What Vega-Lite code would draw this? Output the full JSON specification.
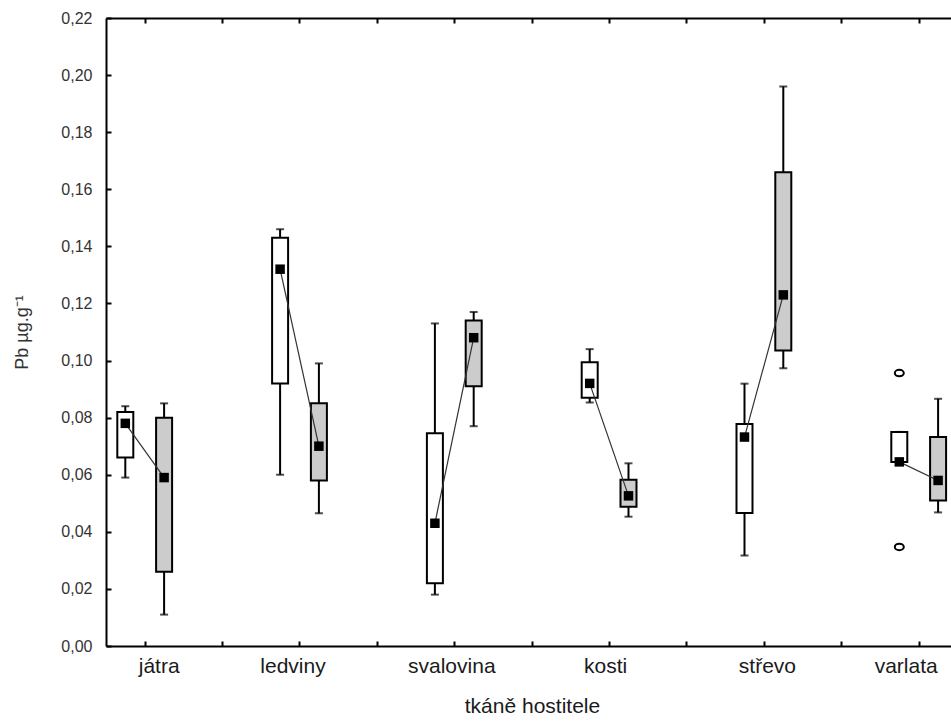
{
  "$schema": "https://vega.github.io/schema/vega-lite/v6.json",
  "autosize": {"type": "none"},
  "padding": {"left": 106, "top": 18, "right": 0, "bottom": 78},
  "width": 845,
  "height": 628,
  "background": "white",
  "config": {
    "view": {"stroke": null},
    "font": "Liberation Sans",
    "axis": {
      "grid": false,
      "domainColor": "black",
      "domainWidth": 2,
      "tickColor": "black",
      "tickWidth": 2,
      "tickSize": -5,
      "labelFont": "Liberation Sans",
      "titleFont": "Liberation Sans",
      "titleFontWeight": "normal"
    }
  },
  "datasets": {
    "boxes": [
      {"tissue": "játra", "pos": 1, "group": "I", "min": 0.059, "q1": 0.066, "median": 0.078, "q3": 0.082, "max": 0.084},
      {"tissue": "játra", "pos": 1, "group": "II", "min": 0.011, "q1": 0.026, "median": 0.059, "q3": 0.080, "max": 0.085},
      {"tissue": "ledviny", "pos": 2, "group": "I", "min": 0.060, "q1": 0.092, "median": 0.132, "q3": 0.143, "max": 0.146},
      {"tissue": "ledviny", "pos": 2, "group": "II", "min": 0.0465, "q1": 0.058, "median": 0.070, "q3": 0.085, "max": 0.099},
      {"tissue": "svalovina", "pos": 3, "group": "I", "min": 0.018, "q1": 0.022, "median": 0.043, "q3": 0.0745, "max": 0.113},
      {"tissue": "svalovina", "pos": 3, "group": "II", "min": 0.077, "q1": 0.091, "median": 0.108, "q3": 0.114, "max": 0.117},
      {"tissue": "kosti", "pos": 4, "group": "I", "min": 0.0853, "q1": 0.087, "median": 0.092, "q3": 0.0994, "max": 0.104},
      {"tissue": "kosti", "pos": 4, "group": "II", "min": 0.0453, "q1": 0.0488, "median": 0.0526, "q3": 0.0582, "max": 0.064},
      {"tissue": "střevo", "pos": 5, "group": "I", "min": 0.0317, "q1": 0.0466, "median": 0.0732, "q3": 0.0778, "max": 0.0919},
      {"tissue": "střevo", "pos": 5, "group": "II", "min": 0.0973, "q1": 0.1035, "median": 0.123, "q3": 0.166, "max": 0.196},
      {"tissue": "varlata", "pos": 6, "group": "I", "min": 0.0645, "q1": 0.0645, "median": 0.0645, "q3": 0.075, "max": 0.075},
      {"tissue": "varlata", "pos": 6, "group": "II", "min": 0.0468, "q1": 0.051, "median": 0.058, "q3": 0.0732, "max": 0.0866}
    ],
    "outliers": [
      {"tissue": "varlata", "pos": 6, "group": "I", "value": 0.0956},
      {"tissue": "varlata", "pos": 6, "group": "I", "value": 0.0347}
    ]
  },
  "data": {"name": "boxes"},
  "resolve": {"axis": {"x": "independent", "y": "independent"}},
  "layer": [
    {
      "mark": {"type": "rule", "color": "black", "strokeWidth": 2, "xOffset": {"expr": "datum.group == 'I' ? -19.4 : 19.4"}},
      "encoding": {
        "x": {
          "field": "pos", "type": "quantitative",
          "scale": {"domain": [0.75, 6.2087], "nice": false, "zero": false, "padding": 0},
          "axis": {
            "orient": "bottom",
            "values": [1, 1.5, 2, 2.5, 3, 3.5, 4, 4.5, 5, 5.5, 6],
            "labelExpr": "datum.value == 1 ? 'játra' : datum.value == 2 ? 'ledviny' : datum.value == 3 ? 'svalovina' : datum.value == 4 ? 'kosti' : datum.value == 5 ? 'střevo' : datum.value == 6 ? 'varlata' : ''",
            "labelFontSize": 21,
            "labelColor": "#1a1a1a",
            "labelPadding": 14,
            "labelFlush": false,
            "labelOverlap": false,
            "labelOffset": {
              "condition": [
                {"test": "datum.value == 1", "value": 14},
                {"test": "datum.value == 2", "value": -7},
                {"test": "datum.value == 3", "value": -3},
                {"test": "datum.value == 4", "value": -4},
                {"test": "datum.value == 5", "value": 3},
                {"test": "datum.value == 6", "value": -13}
              ],
              "value": 0
            },
            "title": "tkáně hostitele",
            "titleFontSize": 21,
            "titleColor": "#1a1a1a",
            "titleX": 426,
            "titleY": 60,
            "titleBaseline": "middle"
          }
        },
        "y": {
          "field": "min", "type": "quantitative",
          "scale": {"domain": [0, 0.22], "nice": false, "zero": false, "padding": 0},
          "axis": {
            "orient": "left",
            "values": [0, 0.02, 0.04, 0.06, 0.08, 0.1, 0.12, 0.14, 0.16, 0.18, 0.2, 0.22],
            "labelExpr": "replace(format(datum.value, '.2f'), '.', ',')",
            "labelFontSize": 16,
            "labelColor": "#333333",
            "labelPadding": 19,
            "title": "Pb µg.g⁻¹",
            "titleFontSize": 18,
            "titleColor": "#333333",
            "titleX": -84,
            "titleY": 314,
            "titleAngle": -90,
            "titleAlign": "center",
            "titleBaseline": "middle"
          }
        },
        "y2": {"field": "max"}
      }
    },
    {
      "mark": {"type": "tick", "orient": "horizontal", "size": 8, "thickness": 2, "color": "black", "xOffset": {"expr": "datum.group == 'I' ? -19.4 : 19.4"}},
      "encoding": {
        "x": {
          "field": "pos", "type": "quantitative",
          "axis": {
            "orient": "top",
            "values": [1, 1.5, 2, 2.5, 3, 3.5, 4, 4.5, 5, 5.5, 6],
            "labels": false,
            "title": null
          }
        },
        "y": {"field": "max", "type": "quantitative", "axis": null}
      }
    },
    {
      "mark": {"type": "tick", "orient": "horizontal", "size": 8, "thickness": 2, "color": "black", "xOffset": {"expr": "datum.group == 'I' ? -19.4 : 19.4"}},
      "encoding": {
        "x": {"field": "pos", "type": "quantitative", "axis": null},
        "y": {"field": "min", "type": "quantitative", "axis": null}
      }
    },
    {
      "mark": {"type": "bar", "width": 16, "stroke": "black", "strokeWidth": 2, "xOffset": {"expr": "datum.group == 'I' ? -19.4 : 19.4"}},
      "encoding": {
        "x": {"field": "pos", "type": "quantitative", "axis": null},
        "y": {"field": "q1", "type": "quantitative", "axis": null},
        "y2": {"field": "q3"},
        "fill": {"field": "group", "type": "nominal", "scale": {"domain": ["I", "II"], "range": ["#ffffff", "#cccccc"]}, "legend": null}
      }
    },
    {
      "mark": {"type": "line", "color": "#333333", "strokeWidth": 1.2, "xOffset": {"expr": "datum.group == 'I' ? -19.4 : 19.4"}},
      "encoding": {
        "x": {"field": "pos", "type": "quantitative", "axis": null},
        "y": {"field": "median", "type": "quantitative", "axis": null},
        "detail": {"field": "tissue", "type": "nominal"}
      }
    },
    {
      "mark": {"type": "square", "size": 90, "color": "black", "filled": true, "opacity": 1, "xOffset": {"expr": "datum.group == 'I' ? -19.4 : 19.4"}},
      "encoding": {
        "x": {"field": "pos", "type": "quantitative", "axis": null},
        "y": {"field": "median", "type": "quantitative", "axis": null}
      }
    },
    {
      "data": {"name": "outliers"},
      "mark": {"type": "point", "shape": "M-1,0A1,0.72,0,1,0,1,0A1,0.72,0,1,0,-1,0Z", "size": 81, "stroke": "black", "strokeWidth": 2, "fill": "white", "filled": true, "opacity": 1, "xOffset": {"expr": "datum.group == 'I' ? -19.4 : 19.4"}},
      "encoding": {
        "x": {"field": "pos", "type": "quantitative", "axis": null},
        "y": {"field": "value", "type": "quantitative", "axis": null}
      }
    }
  ]
}
